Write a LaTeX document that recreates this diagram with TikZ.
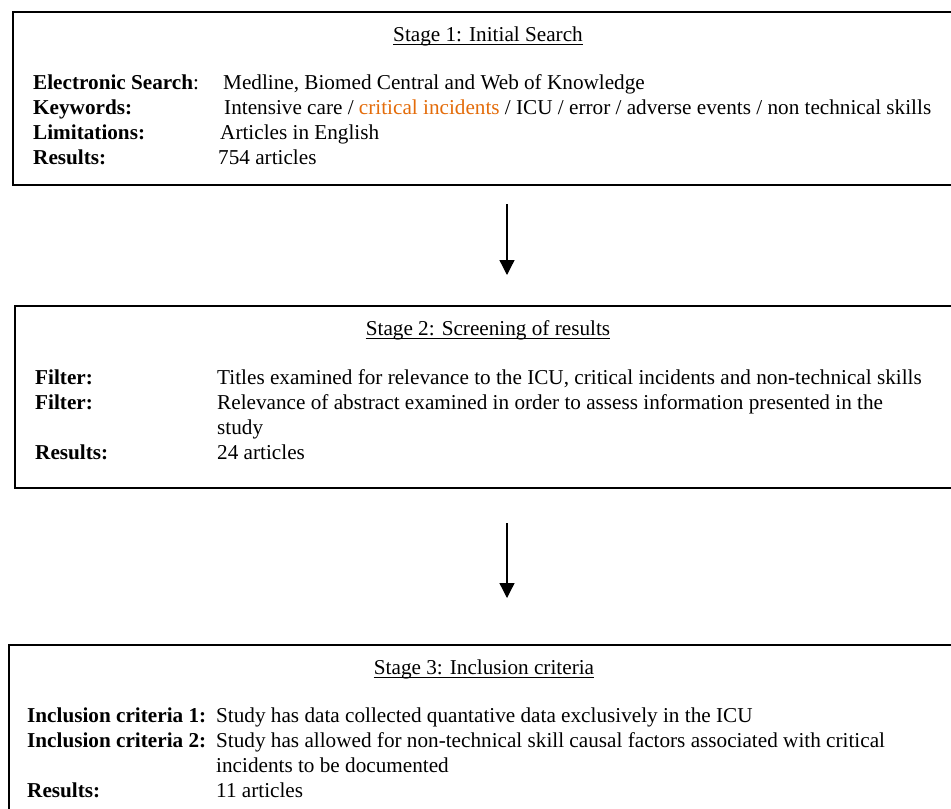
\documentclass[tikz,border=0pt]{standalone}
\usepackage{fontspec}
\setmainfont{Liberation Serif}
\usetikzlibrary{arrows.meta}
\definecolor{kworange}{RGB}{228,108,10}
\newcommand\figfont{\fontsize{21.2}{25}\selectfont}
\tikzset{
  stagebox/.style={draw, line width=2pt, anchor=north west, inner sep=0pt},
  lbl/.style={anchor=base west, inner sep=0pt, font=\figfont\bfseries},
  val/.style={anchor=base west, inner sep=0pt, font=\figfont},
  ttl/.style={anchor=base, inner sep=0pt, font=\figfont},
  uline/.style={line width=1pt},
  flow/.style={line width=1.3pt, -{Triangle[width=15pt,length=15pt]}},
}
\begin{document}
\begin{tikzpicture}[x=1pt,y=-1pt]
\useasboundingbox (0,0) rectangle (951,809);
\clip (0,0) rectangle (951,809);
\fill[white] (0,0) rectangle (951,809);

% Stage 1
\node[stagebox, minimum width=950pt, minimum height=173pt] (box1) at (12,11) {};
\node[ttl] (t1) at (488,41) {Stage 1: Initial Search};
\draw[uline] ([yshift=-3pt]t1.base west) -- ([yshift=-3pt]t1.base east);
\node[lbl] (l11) at (33,89) {Electronic Search\textmd{:}};
\node[val] (v11) at (223,89) {Medline, Biomed Central and Web of Knowledge};
\node[lbl] (l12) at (33,114) {Keywords:};
\node[val] (v12) at (224,114) {Intensive care / \textcolor{kworange}{critical incidents} / ICU / error / adverse events / non technical skills};
\node[lbl] (l13) at (33,139) {Limitations:};
\node[val] (v13) at (220,139) {Articles in English};
\node[lbl] (l14) at (33,164) {Results:};
\node[val] (v14) at (218,164) {754 articles};

% arrow 1
\coordinate (a1s) at (507,204);
\coordinate (a1e) at (507,275);
\draw[flow] (a1s) -- (a1e);

% Stage 2
\node[stagebox, minimum width=950pt, minimum height=182pt] (box2) at (14,305) {};
\node[ttl] (t2) at (488,335) {Stage 2: Screening of results};
\draw[uline] ([yshift=-3pt]t2.base west) -- ([yshift=-3pt]t2.base east);
\node[lbl] (l21) at (35,384) {Filter:};
\node[val] (v21) at (217,384) {Titles examined for relevance to the ICU, critical incidents and non-technical skills};
\node[lbl] (l22) at (35,409) {Filter:};
\node[val] (v22) at (217,409) {Relevance of abstract examined in order to assess information presented in the};
\node[val] (v22b) at (217,434) {study};
\node[lbl] (l23) at (35,459) {Results:};
\node[val] (v23) at (217,459) {24 articles};

% arrow 2
\coordinate (a2s) at (507,523);
\coordinate (a2e) at (507,598);
\draw[flow] (a2s) -- (a2e);

% Stage 3
\node[stagebox, minimum width=960pt, minimum height=190pt] (box3) at (8,644) {};
\node[ttl] (t3) at (484,674) {Stage 3: Inclusion criteria};
\draw[uline] ([yshift=-3pt]t3.base west) -- ([yshift=-3pt]t3.base east);
\node[lbl] (l31) at (27,722) {Inclusion criteria 1:};
\node[val] (v31) at (216,722) {Study has data collected quantative data exclusively in the ICU};
\node[lbl] (l32) at (27,747) {Inclusion criteria 2:};
\node[val] (v32) at (216,747) {Study has allowed for non-technical skill causal factors associated with critical};
\node[val] (v32b) at (216,772) {incidents to be documented};
\node[lbl] (l33) at (27,797) {Results:};
\node[val] (v33) at (216,797) {11 articles};
\end{tikzpicture}
\end{document}
